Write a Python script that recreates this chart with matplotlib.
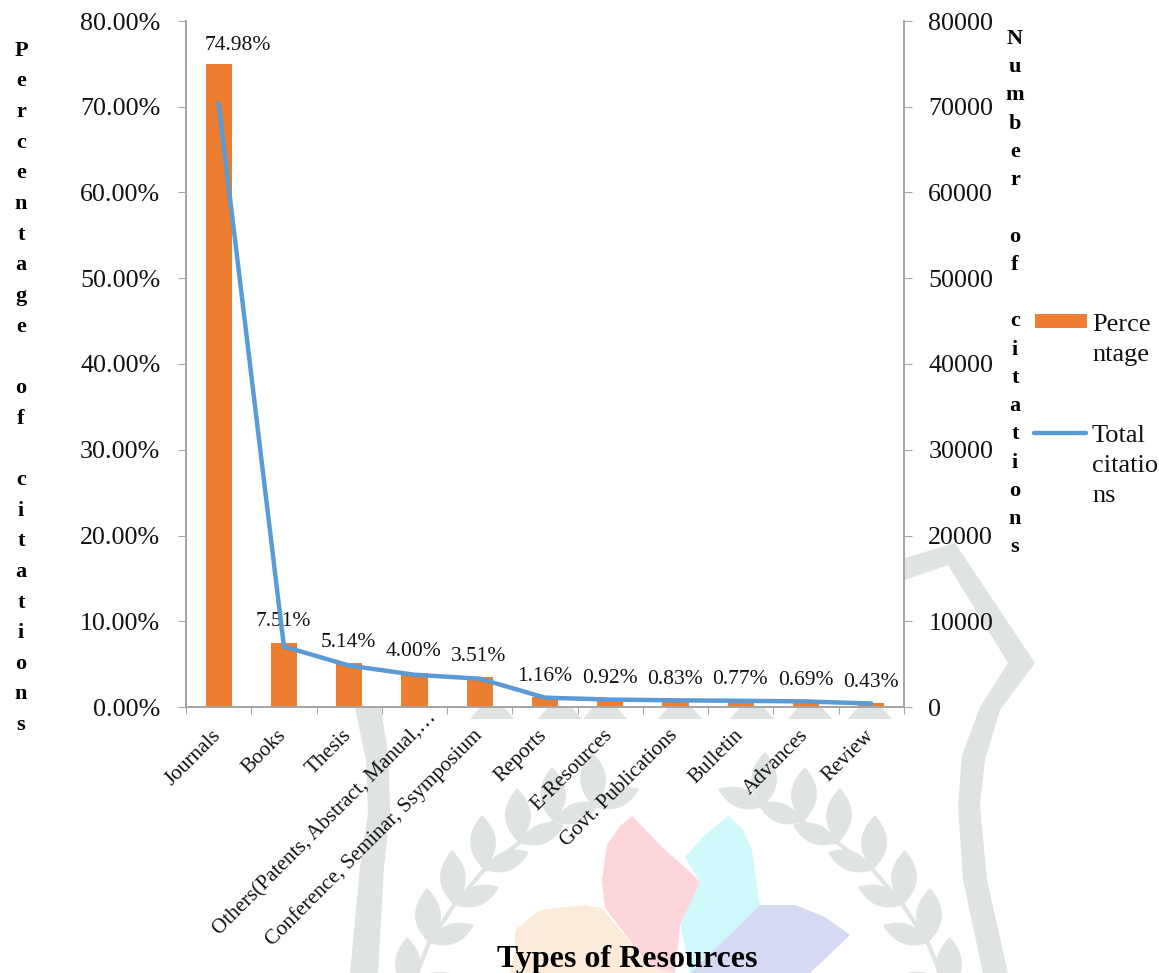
import matplotlib
matplotlib.use("Agg")
import matplotlib.pyplot as plt
from matplotlib.patches import Polygon, PathPatch
from matplotlib.path import Path
from matplotlib.ticker import FuncFormatter

# Citation data by resource type
categories = ['Journals', 'Books', 'Thesis', 'Others(Patents, Abstract, Manual,\u2026',
              'Conference, Seminar, Ssymposium', 'Reports', 'E-Resources',
              'Govt. Publications', 'Bulletin', 'Advances', 'Review']
percentages = [74.98, 7.51, 5.14, 4.00, 3.51, 1.16, 0.92, 0.83, 0.77, 0.69, 0.43]
citations = [70400, 7050, 4830, 3760, 3300, 1090, 865, 780, 724, 649, 404]

W, H = 1159, 973
ORANGE = '#ed7d31'
BLUE = '#5b9bd5'
GREY = '#a6a6a6'
TEXT = '#111111'
EMBLEM = '#dfe3e4'
plt.rcParams['font.family'] = ['Liberation Serif', 'DejaVu Serif']

fig = plt.figure(figsize=(W / 100, H / 100), dpi=100)

# Background emblem, in pixel coordinates of the figure
bg = fig.add_axes([0, 0, 1, 1], zorder=0)
bg.set_xlim(0, W)
bg.set_ylim(H, 0)
bg.axis('off')

petals = [
    ('#fdebd9', [(515, 930), (540, 910), (585, 905), (602, 908), (650, 967), (675, 973), (510, 973), (515, 953)]),
    ('#d5daf2', [(760, 905), (795, 905), (825, 917), (850, 935), (810, 973), (690, 973)]),
    ('#cff9fb', [(728, 816), (742, 828), (752, 850), (759, 900), (760, 905), (690, 973), (680, 923), (700, 882), (685, 857), (705, 835)]),
    ('#fcd6da', [(632, 816), (665, 850), (690, 872), (700, 882), (680, 925), (675, 973), (650, 967), (605, 908), (602, 880), (607, 845), (620, 826)]),
]
for colour, pts in petals:
    bg.add_patch(Polygon(pts, closed=True, fc=colour, ec='none'))

# Outer ring pieces
ring = [
    [(905, 558), (955, 543), (1035, 663), (1000, 710), (985, 760), (980, 806), (987, 880), (1008, 973),
     (983, 973), (963, 880), (958, 806), (962, 755), (980, 707), (1008, 663), (948, 565), (905, 580)],
    [(355, 708), (381, 708), (389, 760), (390, 813), (384, 867), (378, 973), (350, 973), (360, 867), (368, 813), (366, 760)],
]
for pts in ring:
    bg.add_patch(Polygon(pts, closed=True, fc=EMBLEM, ec='none'))


def leaf(tip, base, bulge):
    # Pointed leaf shape between a base and a tip
    mx, my = (tip[0] + base[0]) / 2, (tip[1] + base[1]) / 2
    dx, dy = tip[0] - base[0], tip[1] - base[1]
    n = (dx ** 2 + dy ** 2) ** 0.5
    nx, ny = -dy / n * bulge, dx / n * bulge
    verts = [base, (mx + nx, my + ny), tip, (mx - nx, my - ny), base]
    codes = [Path.MOVETO, Path.CURVE3, Path.CURVE3, Path.CURVE3, Path.CURVE3]
    return PathPatch(Path(verts, codes), fc=EMBLEM, ec='none')


# Laurel branches, mirrored about the centre of the emblem
centre = 678.5
leaf_tips = [(592, 752), (552, 767), (517, 788), (482, 815), (452, 850), (427, 888), (407, 937)]
for tx, ty in leaf_tips:
    bx, by = tx + 2, ty + 55
    sx, sy = bx + 45, by - 18
    for mirror in (False, True):
        f = (lambda v: 2 * centre - v) if mirror else (lambda v: v)
        bg.add_patch(leaf((f(tx), ty), (f(bx), by), 26))
        bg.add_patch(leaf((f(sx), sy), (f(bx), by), 20))
for mirror in (False, True):
    f = (lambda v: 2 * centre - v) if mirror else (lambda v: v)
    bg.plot([f(t[0] + 2) for t in leaf_tips], [t[1] + 55 for t in leaf_tips], color=EMBLEM, lw=3)

# Small crowns just under the axis line
for cx in [492, 560, 605, 680, 752, 810, 870]:
    bg.add_patch(Polygon([(cx - 22, 719), (cx + 22, 719), (cx + 10, 705), (cx - 10, 705)], closed=True,
                         fc=EMBLEM, ec='none'))

ax = fig.add_axes([186 / W, 1 - 707 / H, 718 / W, 686 / H], zorder=1)
ax.set_facecolor('white')

x = range(len(categories))
ax.bar(x, percentages, width=0.4, color=ORANGE, label='Percentage')
ax.set_xlim(-0.5, len(categories) - 0.5)
ax.set_ylim(0, 80)
ax.set_yticks(range(0, 81, 10))
ax.yaxis.set_major_formatter(FuncFormatter(lambda v, p: f'{v:.2f}%'))
ax.set_xticks([i - 0.5 for i in x] + [len(categories) - 0.5])
ax.set_xticklabels([])
ax.tick_params(axis='y', labelsize=18.7, length=6, color=GREY, pad=12.5, labelcolor=TEXT)
ax.tick_params(axis='x', length=5, color=GREY, direction='out')

# Category names run up to the right and end under each bar
for i, name in enumerate(categories):
    dx, dy = (14, -6) if i == 3 else (-0.5, -18.5)
    ax.annotate(name, (i, 0), xytext=(dx, dy), textcoords='offset points', rotation=45,
                rotation_mode='anchor', ha='right', va='center', fontsize=15.2, color=TEXT)

# Value labels above the bars; the tallest one sits off to the right
for i, p in enumerate(percentages):
    ax.annotate(f'{p:.2f}%', (i, p), xytext=(14 if i == 0 else -0.5, 13.5 if i == 0 else 15),
                textcoords='offset points', ha='center', va='center', fontsize=15.5, color=TEXT)

ax2 = ax.twinx()
ax2.plot(x, citations, color=BLUE, lw=3.2, solid_capstyle='round', label='Total citations')
ax2.set_ylim(0, 80000)
ax2.set_yticks(range(0, 80001, 10000))
ax2.tick_params(axis='y', labelsize=18.7, length=6, color=GREY, pad=11.5, labelcolor=TEXT)

for a in (ax, ax2):
    a.spines['top'].set_visible(False)
    for side in ('left', 'right', 'bottom'):
        a.spines[side].set_color(GREY)
        a.spines[side].set_linewidth(1.3)

# Axis titles stacked one letter per line
fig.text(21 / W, 1 - 388 / H, '\n'.join('Percentage of citations'),
         ha='center', va='center', fontsize=16, fontweight='bold', linespacing=1.71, zorder=3)
fig.text(1015 / W, 1 - 293 / H, '\n'.join('Number of citations'),
         ha='center', va='center', fontsize=16, fontweight='bold', linespacing=1.55, zorder=3)
fig.text(627 / W, 1 - 959 / H, 'Types of Resources', ha='center', va='center',
         fontsize=23, fontweight='bold', zorder=3)

# Legend drawn by hand so the labels wrap inside the narrow margin
leg = fig.add_axes([0, 0, 1, 1], zorder=2)
leg.set_xlim(0, W)
leg.set_ylim(H, 0)
leg.axis('off')
leg.add_patch(plt.Rectangle((1035, 314), 52, 14, fc=ORANGE, ec='none'))
leg.plot([1034, 1086], [433, 433], color=BLUE, lw=3.2, solid_capstyle='round')
leg.text(1092, 340, 'Perce\nntage', ha='left', va='center', fontsize=19, linespacing=1.45, color=TEXT)
leg.text(1092, 466, 'Total\ncitatio\nns', ha='left', va='center', fontsize=19, linespacing=1.5, color=TEXT)

fig.savefig('out.png', dpi=100)
